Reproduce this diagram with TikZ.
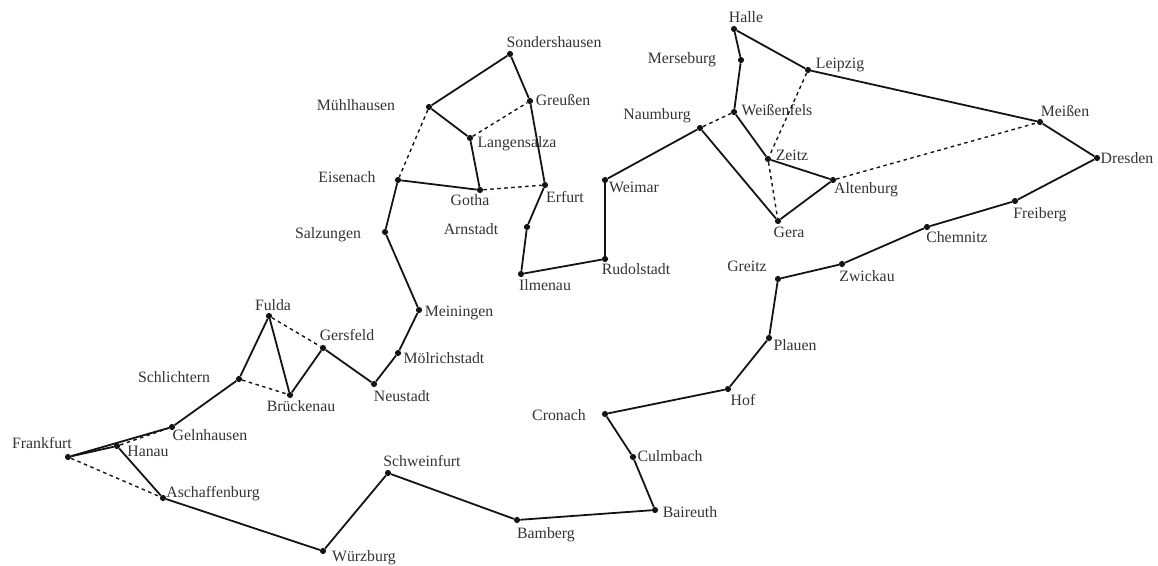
\documentclass[tikz,border=0pt]{standalone}
\usepackage{fontspec}
\setmainfont{Liberation Serif}
\definecolor{ink}{gray}{0.08}
\definecolor{labelink}{gray}{0.2}
\tikzset{
  town/.style={circle,fill=ink,draw=none,inner sep=0pt,minimum size=6.2pt},
  townlabel/.style={inner sep=0pt,yshift=-2pt,text=labelink,font=\fontsize{15.8}{18}\selectfont,text height=10.5pt,text depth=3.5pt},
  route/.style={draw=ink,line width=1.8pt},
  alt/.style={draw=ink,line width=1.4pt,dash pattern=on 3.5pt off 3.5pt}
}
\begin{document}
\begin{tikzpicture}[x=1pt,y=-1pt]
\useasboundingbox (0,0) rectangle (1158,565);
\foreach \n/\x/\y/\lx/\ly/\t in {
 fra/68/457/42/443/Frankfurt, han/117/446/148/451/Hanau, gel/172/427/210/435/Gelnhausen,
 sch/239/379/174/377/Schlichtern, ful/269/316/273/305/Fulda, bru/290/395/301/406/Brückenau,
 ger/323/348/347/335/Gersfeld, neu/374/384/402/396/Neustadt, mol/398/353/444/358/Mölrichstadt,
 mei/419/310/459/311/Meiningen, sal/385/232/328/233/Salzungen, eis/398/180/347/177/Eisenach,
 got/480/190/470/200/Gotha, lan/470/138/517/142/Langensalza, muh/429/107/356/105/Mühlhausen,
 son/510/54/554/42/Sondershausen, gre/530/101/563/100/Greußen, erf/545/185/565/197/Erfurt,
 arn/527/227/471/229/Arnstadt, ilm/521/274/545/285/Ilmenau, rud/605/259/636/269/Rudolstadt,
 wei/605/180/634/187/Weimar, nau/700/128/657/114/Naumburg, wfs/734/112/777/110/Weißenfels,
 mer/741/60/682/58/Merseburg, hal/734/29/746/17/Halle, lei/808/70/840/63/Leipzig,
 zei/768/159/792/155/Zeitz, alt/833/180/866/188/Altenburg, gera/778/221/789/232/Gera,
 mss/1040/122/1065/111/Meißen, dre/1097/158/1127/158/Dresden, fre/1015/201/1040/213/Freiberg,
 che/927/227/957/237/Chemnitz, zwi/842/264/867/276/Zwickau, grz/778/279/747/266/Greitz,
 pla/769/338/795/345/Plauen, hof/728/389/743/400/Hof, cro/605/414/559/415/Cronach,
 cul/633/457/670/456/Culmbach, bai/655/510/690/512/Baireuth, bam/517/520/546/533/Bamberg,
 swf/388/473/422/461/Schweinfurt, wur/323/551/364/556/Würzburg, asc/163/498/213/492/Aschaffenburg}
{
  \node[town] (\n) at (\x,\y) {};
  \node[townlabel] (\n-label) at (\lx,\ly) {\t};
}
\foreach \a/\b in {fra/han, fra/gel, gel/sch, sch/ful, ful/bru, bru/ger, ger/neu, neu/mol, mol/mei,
 mei/sal, sal/eis, eis/got, got/lan, lan/muh, muh/son, son/gre, gre/erf, erf/arn, arn/ilm, ilm/rud,
 rud/wei, wei/nau, nau/gera, gera/alt, alt/zei, zei/wfs, wfs/mer, mer/hal, hal/lei, lei/mss, mss/dre,
 dre/fre, fre/che, che/zwi, zwi/grz, grz/pla, pla/hof, hof/cro, cro/cul, cul/bai, bai/bam, bam/swf,
 swf/wur, wur/asc, asc/han}
  \draw[route] (\a) -- (\b);
\foreach \a/\b in {fra/asc, han/gel, ful/ger, sch/bru, muh/eis, lan/gre, got/erf, nau/wfs, lei/zei, zei/gera, alt/mss}
  \draw[alt] (\a) -- (\b);
\end{tikzpicture}
\end{document}
